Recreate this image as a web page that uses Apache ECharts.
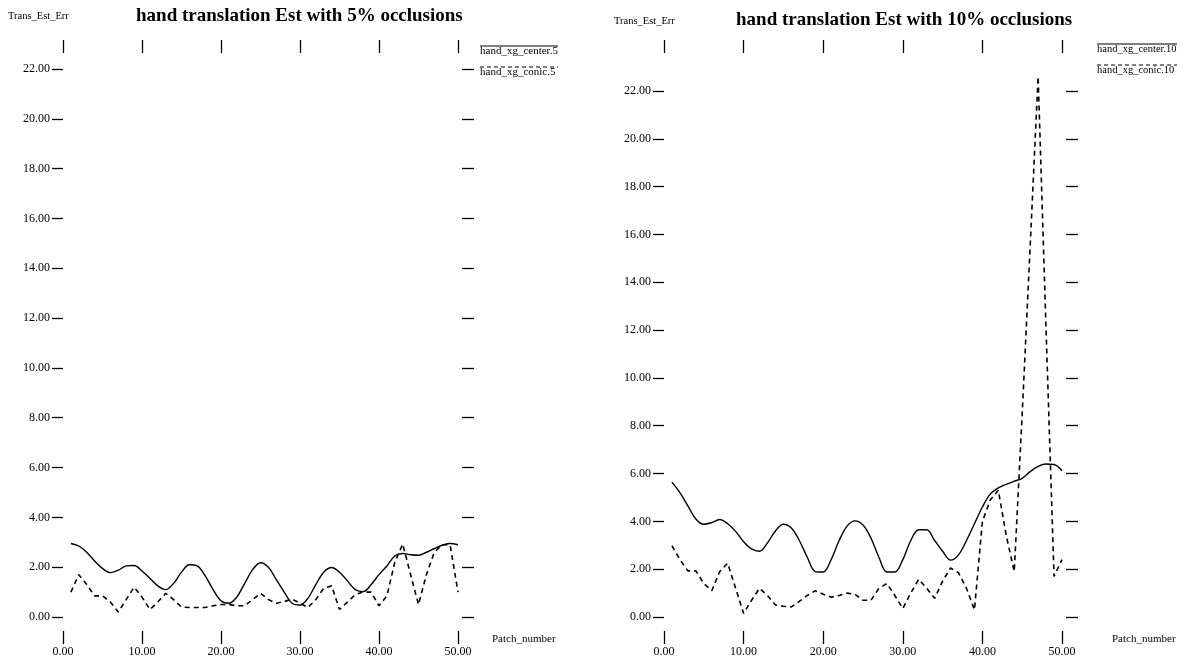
<!DOCTYPE html>
<html>
<head>
<meta charset="utf-8">
<title>hand translation Est</title>
<script src="https://cdn.jsdelivr.net/npm/echarts@6/dist/echarts.min.js"></script>
<style>
  html, body { margin: 0; padding: 0; background: #fff; }
  #chart { width: 1189px; height: 659px; }
</style>
</head>
<body>
<div id="chart"></div>
<script>
// patch numbers (x)
var patches = [1, 2, 3, 4, 5, 6, 7, 8, 9, 10, 11, 12, 13, 14, 15, 16, 17, 18, 19, 20,
  21, 22, 23, 24, 25, 26, 27, 28, 29, 30, 31, 32, 33, 34, 35, 36, 37, 38, 39, 40,
  41, 42, 43, 44, 45, 46, 47, 48, 49, 50];

// 5% occlusions
var center5 = [2.95, 2.85, 2.6, 2.25, 1.95, 1.78, 1.88, 2.05, 2.07, 1.85,
  1.55, 1.25, 1.1, 1.35, 1.8, 2.1, 2.05, 1.65, 1.1, 0.65,
  0.55, 0.8, 1.35, 1.9, 2.18, 2.0, 1.5, 1.0, 0.55, 0.48,
  0.75, 1.3, 1.8, 1.99, 1.8, 1.45, 1.1, 1.02, 1.3, 1.7,
  2.05, 2.45, 2.55, 2.5, 2.48, 2.6, 2.75, 2.88, 2.95, 2.9];
var conic5 = [1.0, 1.7, 1.3, 0.85, 0.85, 0.6, 0.2, 0.7, 1.2, 0.8,
  0.3, 0.6, 0.95, 0.7, 0.4, 0.38, 0.38, 0.38, 0.45, 0.5,
  0.5, 0.45, 0.45, 0.7, 0.95, 0.7, 0.55, 0.62, 0.72, 0.55,
  0.38, 0.7, 1.15, 1.25, 0.3, 0.6, 0.9, 1.0, 1.0, 0.45,
  0.85, 2.2, 2.93, 1.7, 0.5, 1.7, 2.6, 2.9, 2.9, 1.0];

// 10% occlusions
var center10 = [5.64, 5.2, 4.65, 4.1, 3.88, 3.95, 4.08, 3.9, 3.58, 3.15,
  2.85, 2.75, 3.1, 3.6, 3.88, 3.72, 3.2, 2.5, 1.9, 1.88,
  2.4, 3.2, 3.8, 4.02, 3.85, 3.3, 2.5, 1.88, 1.88, 2.4,
  3.2, 3.65, 3.65, 3.2, 2.75, 2.38, 2.6, 3.2, 3.9, 4.6,
  5.15, 5.4, 5.55, 5.68, 5.8, 6.08, 6.3, 6.4, 6.38, 6.12];
var conic10 = [2.98, 2.4, 1.93, 1.93, 1.4, 1.1, 1.9, 2.25, 1.2, 0.15,
  0.7, 1.2, 0.9, 0.5, 0.45, 0.42, 0.65, 0.9, 1.1, 0.95,
  0.83, 0.9, 1.0, 0.95, 0.7, 0.7, 1.2, 1.4, 0.9, 0.35,
  1.0, 1.58, 1.2, 0.78, 1.5, 2.05, 1.85, 1.2, 0.3, 4.0,
  4.9, 5.3, 3.4, 1.9, 8.5, 15.5, 22.6, 12.0, 1.7, 2.4];

var titles = ['hand translation Est with 5% occlusions', 'hand translation Est with 10% occlusions'];
var legendNames = [['hand_xg_center.5', 'hand_xg_conic.5'], ['hand_xg_center.10', 'hand_xg_conic.10']];

var FONT = '"Liberation Serif", "DejaVu Serif", serif';

function pairs(ys) {
  return patches.map(function (p, i) { return [p, ys[i]]; });
}
function fmt(v) { return v.toFixed(2); }

var grids = [
  { left: 63, top: 69, width: 395, height: 548 },
  { left: 664, top: 91, width: 398, height: 526 }
];
var nameGaps = [34, 50];

var xAxes = [];
var yAxes = [];
grids.forEach(function (g, i) {
  // bottom axis with labels
  xAxes.push({
    gridIndex: i, type: 'value', min: 0, max: 50, interval: 10, position: 'bottom', offset: 14,
    axisLine: { show: false, onZero: false }, splitLine: { show: false },
    axisTick: { show: true, length: 13, lineStyle: { color: '#000', width: 1.3 } },
    axisLabel: { formatter: fmt, margin: 15, color: '#000', fontFamily: FONT, fontSize: 12 },
    name: 'Patch_number', nameLocation: 'end', nameGap: nameGaps[i],
    nameTextStyle: { color: '#000', fontFamily: FONT, fontSize: 11, verticalAlign: 'top', padding: [3, 0, 0, 0] }
  });
  // top ticks only
  xAxes.push({
    gridIndex: i, type: 'value', min: 0, max: 50, interval: 10, position: 'top', offset: g.top - 53,
    axisLine: { show: false, onZero: false }, splitLine: { show: false },
    axisTick: { show: true, length: 13, lineStyle: { color: '#000', width: 1.3 } },
    axisLabel: { show: false }
  });
  yAxes.push({
    gridIndex: i, type: 'value', min: 0, max: 22, interval: 2, position: 'left',
    axisLine: { show: false, onZero: false }, splitLine: { show: false },
    axisTick: { show: true, length: 11, lineStyle: { color: '#000', width: 1.3 } },
    axisLabel: { formatter: fmt, margin: 13, color: '#000', fontFamily: FONT, fontSize: 12 },
    name: 'Trans_Est_Err', nameLocation: 'end', nameGap: 0,
    nameTextStyle: { color: '#000', fontFamily: FONT, fontSize: 10.5, align: 'left' }
  });
  yAxes.push({
    gridIndex: i, type: 'value', min: 0, max: 22, interval: 2, position: 'right', offset: 4,
    axisLine: { show: false, onZero: false }, splitLine: { show: false },
    axisTick: { show: true, length: 12, lineStyle: { color: '#000', width: 1.3 } },
    axisLabel: { show: false }
  });
});

// y axis name positions
yAxes[0].nameTextStyle.padding = [0, 0, 47, -55];
yAxes[2].nameTextStyle.padding = [0, 0, 64, -50];

function solid(i, data) {
  return {
    type: 'line', xAxisIndex: i * 2, yAxisIndex: i * 2, data: pairs(data),
    smooth: 0.35, showSymbol: false, clip: false,
    lineStyle: { color: '#000', width: 1.4 }
  };
}
function dashed(i, data) {
  return {
    type: 'line', xAxisIndex: i * 2, yAxisIndex: i * 2, data: pairs(data),
    smooth: false, showSymbol: false, clip: false,
    lineStyle: { color: '#000', width: 1.6, type: [5, 4] }
  };
}

// legend: text with a line drawn over it
var legendPos = [[480, 52, 11, 78], [1097, 50, 10.5, 80]];
var graphics = [];
legendPos.forEach(function (pos, i) {
  [0, 1].forEach(function (k) {
    var y = pos[1] + k * 21;
    graphics.push({
      type: 'text', left: pos[0], top: y - 6,
      style: { text: legendNames[i][k], fill: '#000', font: pos[2] + 'px ' + FONT }
    });
    graphics.push({
      type: 'line', shape: { x1: pos[0], y1: y - 6, x2: pos[0] + pos[3], y2: y - 6 },
      style: { stroke: '#000', lineWidth: 1.2, lineDash: k ? [4, 3] : null }
    });
  });
});

var chart = echarts.init(document.getElementById('chart'));
chart.setOption({
  backgroundColor: '#fff',
  animation: false,
  title: [
    { text: titles[0], left: 131, top: 2, textStyle: { fontFamily: FONT, fontSize: 19, fontWeight: 'bold', color: '#000' } },
    { text: titles[1], left: 731, top: 6, textStyle: { fontFamily: FONT, fontSize: 19, fontWeight: 'bold', color: '#000' } }
  ],
  grid: grids,
  xAxis: xAxes,
  yAxis: yAxes,
  series: [
    solid(0, center5), dashed(0, conic5),
    solid(1, center10), dashed(1, conic10)
  ],
  graphic: graphics
});
</script>
</body>
</html>
